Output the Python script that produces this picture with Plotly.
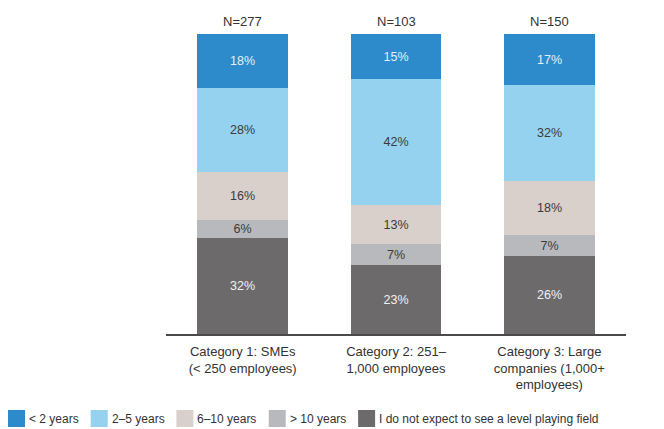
import plotly.graph_objects as go

categories = ["Category 1: SMEs<br>(< 250 employees)",
              "Category 2: 251–<br>1,000 employees",
              "Category 3: Large<br>companies (1,000+<br>employees)"]
sample_sizes = ["N=277", "N=103", "N=150"]
series_names = ["I do not expect to see a level playing field", "> 10 years",
                "6–10 years", "2–5 years", "< 2 years"]
never = [32, 23, 26]
over10 = [6, 7, 7]
y6_10 = [16, 13, 18]
y2_5 = [28, 42, 32]
under2 = [18, 15, 17]

series_values = [never, over10, y6_10, y2_5, under2]
colors = ["#6D6A6C", "#B8B9BD", "#D9CFCB", "#94D2F0", "#2E8BCB"]
text_colors = ["#EEF2F6", "#3A3A3A", "#3A3A3A", "#3A3A3A", "#E6EEF6"]

FONT = "Liberation Sans Narrow, Arial Narrow, Liberation Sans, Arial, sans-serif"

# page body has an 8px margin; compensate so page coordinates match
OFF = 8
W, H = 664, 429
pl = 166 - OFF
pt = 34 - OFF
pr = W - (626 - OFF)
pb = H - (334 - OFF)
pw, ph = W - pl - pr, H - pt - pb

fig = go.Figure()
x = list(range(len(categories)))
for name, vals, c, tc in zip(series_names, series_values, colors, text_colors):
    fig.add_trace(go.Bar(
        x=x, y=vals, name=name, marker=dict(color=c, line=dict(width=0)),
        width=0.59, text=[f"{v}%" for v in vals], texttemplate="%{text}",
        textposition="inside", insidetextanchor="middle", constraintext="none",
        textfont=dict(color=tc, size=12.5, family=FONT),
        showlegend=False,
    ))

for i, n in enumerate(sample_sizes):
    fig.add_annotation(x=i, y=100, text=n, showarrow=False, yanchor="bottom",
                       yshift=3, font=dict(size=13, color="#333333", family=FONT))

# custom legend (left to right), laid out sequentially
legend_order = list(reversed(range(len(series_names))))
char_w = {"<": 0.584, ">": 0.584, " ": 0.278, "–": 0.556, "y": 0.5, "e": 0.556,
          "a": 0.556, "r": 0.333, "s": 0.5, "I": 0.278, "d": 0.556, "o": 0.556,
          "n": 0.556, "t": 0.278, "x": 0.5, "p": 0.556, "c": 0.5, "l": 0.222,
          "v": 0.5, "i": 0.222, "g": 0.556, "f": 0.278}
LF = 12
cur = 8 - OFF
for idx in legend_order:
    name = series_names[idx]
    tw = sum(char_w.get(ch, 0.556) for ch in name) * LF
    x0 = (cur - pl) / pw
    x1 = (cur + 17 - pl) / pw
    y0 = (H - pb - (427 - OFF)) / ph
    y1 = (H - pb - (410 - OFF)) / ph
    fig.add_shape(type="rect", xref="paper", yref="paper", x0=x0, x1=x1,
                  y0=y0, y1=y1, fillcolor=colors[idx], line=dict(width=0))
    fig.add_annotation(xref="paper", yref="paper", x=(cur + 20 - pl) / pw,
                       y=(H - pb - (419 - OFF)) / ph, text=name,
                       showarrow=False, xanchor="left", yanchor="middle",
                       xshift=0, borderpad=0,
                       font=dict(size=LF, color="#333333", family=FONT))
    cur += 17 + 4 + tw + 12

fig.update_layout(
    barmode="stack", width=W, height=H,
    margin=dict(l=pl, r=pr, t=pt, b=pb, autoexpand=False),
    plot_bgcolor="white", paper_bgcolor="white",
    font=dict(family=FONT, size=13, color="#333333"),
    xaxis=dict(range=[-0.5, 2.5], tickvals=x, ticktext=categories,
               showgrid=False, showline=True, linecolor="#4A4A4A", linewidth=2,
               ticks="outside", ticklen=4, tickcolor="rgba(0,0,0,0)",
               tickfont=dict(size=13, color="#333333")),
    yaxis=dict(range=[0, 100], visible=False),
    bargap=0,
)

fig.write_html("out.html")
